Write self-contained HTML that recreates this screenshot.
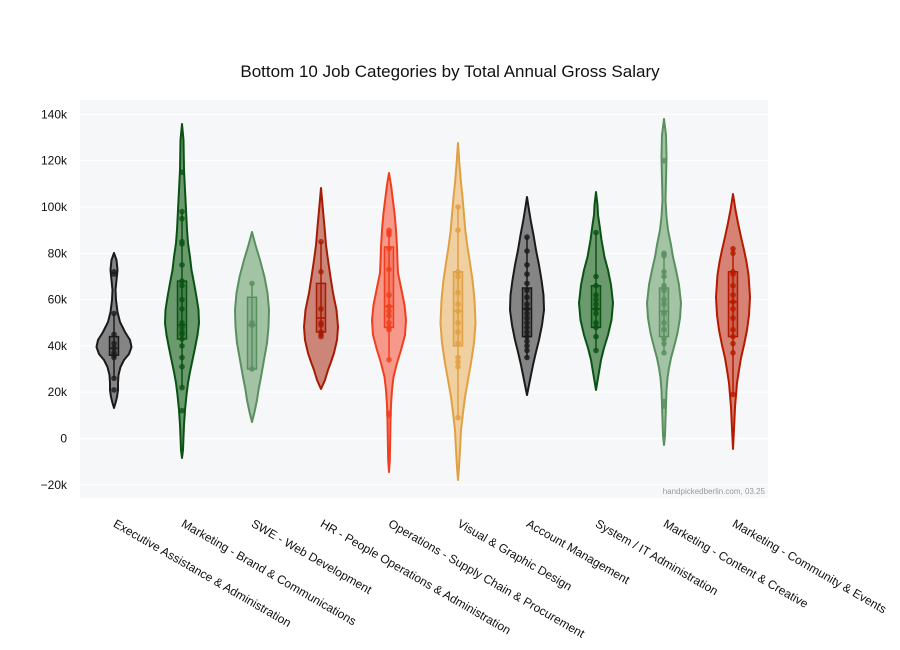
<!DOCTYPE html>
<html>
<head>
<meta charset="utf-8">
<style>
html,body{margin:0;padding:0;background:#fff;}
svg{display:block;}
text{font-family:"Liberation Sans",Arial,sans-serif;}
</style>
</head>
<body>
<svg width="900" height="650" viewBox="0 0 900 650" xmlns="http://www.w3.org/2000/svg">
<rect x="0" y="0" width="900" height="650" fill="#ffffff"/>
<!-- plot background -->
<rect x="80" y="100" width="688" height="398" fill="#f5f7f9"/>
<!-- gridlines -->
<g stroke="#ffffff" stroke-width="1.2">
<line x1="80" x2="768" y1="114.4" y2="114.4"/>
<line x1="80" x2="768" y1="160.7" y2="160.7"/>
<line x1="80" x2="768" y1="207.0" y2="207.0"/>
<line x1="80" x2="768" y1="253.3" y2="253.3"/>
<line x1="80" x2="768" y1="299.6" y2="299.6"/>
<line x1="80" x2="768" y1="345.9" y2="345.9"/>
<line x1="80" x2="768" y1="392.2" y2="392.2"/>
<line x1="80" x2="768" y1="438.5" y2="438.5" stroke-width="1.8"/>
<line x1="80" x2="768" y1="484.8" y2="484.8"/>
</g>
<!-- y tick labels -->
<g font-size="12" fill="#111" text-anchor="end">
<text x="67" y="118.4">140k</text>
<text x="67" y="164.7">120k</text>
<text x="67" y="211.0">100k</text>
<text x="67" y="257.3">80k</text>
<text x="67" y="303.6">60k</text>
<text x="67" y="349.9">40k</text>
<text x="67" y="396.2">20k</text>
<text x="67" y="442.5">0</text>
<text x="67" y="488.8">−20k</text>
</g>
<!-- title -->
<text x="450" y="77" font-size="17" fill="#111" text-anchor="middle">Bottom 10 Job Categories by Total Annual Gross Salary</text>

<g stroke-width="2" stroke-linejoin="round">
<!-- V1 -->
<path d="M114,253 L116.5,260 L117.5,270 L116.5,280 L115.5,290 L116,300 L117.5,312 L120,322 L125,332 L130,340 L131.5,347 L129,354 L124,360 L120.5,367 L118.5,375 L118,383 L118,390 L117,397 L115.5,403 L114,408 L112.5,403 L111,397 L110,390 L110,383 L109.5,375 L107.5,367 L104,360 L99,354 L96.5,347 L98,340 L103,332 L108,322 L110.5,312 L112,300 L112.5,290 L111.5,280 L110.5,270 L111.5,260 Z" fill="#858585" stroke="#1a1a1a"/>
<!-- V2 -->
<path d="M182,124 L183.5,140 L184,170 L185,190 L186,210 L187,230 L188,243 L190,257 L191.5,270 L194,283 L196.5,297 L198.5,310 L199,323 L197.5,335 L195,348 L192.5,360 L190,372 L188,383 L186.5,395 L185,410 L184,425 L183.5,437 L183,450 L182,458 L181,450 L180.5,437 L180,425 L179,410 L177.5,395 L176,383 L174,372 L171.5,360 L169,348 L166.5,335 L165,323 L165.5,310 L167.5,297 L170,283 L172.5,270 L174,257 L176,243 L177,230 L178,210 L179,190 L180,170 L180.5,140 Z" fill="#6b9a6e" stroke="#0a5213"/>
<!-- V3 -->
<path d="M252,232 L255.5,245 L260,260 L264.5,277 L267.5,293 L269,310 L268.5,327 L267,343 L264,360 L261,377 L258.5,390 L257,400 L254.5,412 L252,422 L249.5,412 L247,400 L245.5,390 L243,377 L240,360 L237,343 L235.5,327 L235,310 L236.5,293 L239.5,277 L244,260 L248.5,245 Z" fill="#a3c3a5" stroke="#5a8f60"/>
<!-- V4 -->
<path d="M321,188 L322.5,205 L324.5,227 L326,245 L328,260 L330.5,277 L333,293 L336.5,310 L338,327 L337,340 L334,353 L331,362 L328,370 L325,380 L321,389 L317,380 L314,370 L311,362 L308,353 L305,340 L304,327 L305.5,310 L309,293 L311.5,277 L314,260 L316,245 L317.5,227 L319.5,205 Z" fill="#cc8579" stroke="#a51c05"/>
<!-- V5 -->
<path d="M389,173 L391,185 L392.5,197 L394.5,213 L396,230 L397,247 L397.5,262 L398,273 L401.5,290 L404.5,305 L406,320 L405,335 L401,350 L397,363 L393.5,377 L392,390 L391,405 L390.5,420 L390.2,440 L389.8,460 L389,472 L388.2,460 L387.8,440 L387.5,420 L387,405 L386,390 L384.5,377 L381,363 L377,350 L373,335 L372,320 L373.5,305 L376.5,290 L380,273 L380.5,262 L381,247 L382,230 L383.5,213 L385.5,197 L387,185 Z" fill="#f7998a" stroke="#f03f1f"/>
<!-- V6 -->
<path d="M458,143 L459.5,165 L461,183 L462.5,197 L464,215 L465.5,232 L467.5,247 L470,263 L472.5,280 L474.5,300 L475.5,323 L474,343 L471,363 L468,380 L465,397 L463,413 L461,430 L460,450 L459,467 L458,480 L457,467 L456,450 L455,430 L453,413 L451,397 L448,380 L445,363 L442,343 L440.5,323 L441.5,300 L443.5,280 L446,263 L448.5,247 L450.5,232 L452,215 L453.5,197 L455,183 L456.5,165 Z" fill="#f0d0a0" stroke="#e0a043"/>
<!-- V7 -->
<path d="M527,197 L529,210 L531,222 L533.5,235 L536,250 L539,265 L541.5,280 L543.5,295 L544,310 L542,325 L539,340 L536,352 L533,365 L530,380 L527,395 L524,380 L521,365 L518,352 L515,340 L512,325 L510,310 L510.5,295 L512.5,280 L515,265 L518,250 L520.5,235 L523,222 L525,210 Z" fill="#858585" stroke="#1a1a1a"/>
<!-- V8 -->
<path d="M596,192 L597.5,205 L598,215 L599.5,225 L601.5,240 L604.5,257 L608,270 L611,285 L613,303 L611.5,320 L608,335 L604,348 L601,360 L598.5,375 L596,390 L593.5,375 L591,360 L588,348 L584,335 L580.5,320 L579,303 L581,285 L584,270 L587.5,257 L590.5,240 L592.5,225 L594,215 L594.5,205 Z" fill="#6b9a6e" stroke="#0a5213"/>
<!-- V9 -->
<path d="M664,119 L666,135 L666.5,157 L666,180 L665.5,200 L666.5,217 L668,230 L671,245 L673,257 L676,270 L679,285 L681,303 L680,318 L677.5,333 L674,347 L671,358 L669,368 L667.5,378 L666.5,390 L666,405 L665.5,420 L665,435 L664,445 L663,435 L662.5,420 L662,405 L661.5,390 L660.5,378 L659,368 L657,358 L654,347 L650.5,333 L648,318 L647,303 L649,285 L652,270 L655,257 L657,245 L660,230 L661.5,217 L662.5,200 L662,180 L661.5,157 L662,135 Z" fill="#a3c3a5" stroke="#5a8f60"/>
<!-- V10 -->
<path d="M733,194 L735.5,210 L738,223 L741,237 L744,250 L746.5,262 L748.5,275 L750,297 L749,315 L747,330 L744,345 L741,358 L739,370 L737,383 L736,395 L735,407 L734.2,425 L733,449 L731.8,425 L731,407 L730,395 L729,383 L727,370 L725,358 L722,345 L719,330 L717,315 L716,297 L717.5,275 L719.5,262 L722,250 L725,237 L728,223 L730.5,210 Z" fill="#d68375" stroke="#b51a00"/>
</g>

<!-- Boxes, whiskers, medians -->
<g stroke-width="1.5">
<g stroke="#1a1a1a" fill="rgba(26,26,26,0.35)">
<line x1="114" x2="114" y1="313.5" y2="378.3"/>
<rect x="109.5" y="336.6" width="9" height="18.6"/>
<line x1="109.5" x2="118.5" y1="348.2" y2="348.2" stroke-dasharray="2,1"/>
</g>
<g stroke="#0a5213" fill="rgba(10,82,19,0.35)">
<line x1="182" x2="182" y1="211.6" y2="387.6"/>
<rect x="177.5" y="281.1" width="9" height="57.9"/>
<line x1="177.5" x2="186.5" y1="325.1" y2="325.1"/>
</g>
<g stroke="#5a8f60" fill="rgba(90,143,96,0.35)">
<line x1="252" x2="252" y1="283.4" y2="369"/>
<rect x="247.5" y="297.3" width="9" height="71.7"/>
<line x1="247.5" x2="256.5" y1="325.1" y2="325.1"/>
</g>
<g stroke="#a51c05" fill="rgba(165,28,5,0.3)">
<line x1="321" x2="321" y1="241.7" y2="336.6"/>
<rect x="316.5" y="283.4" width="9" height="48.6"/>
<line x1="316.5" x2="325.5" y1="318.1" y2="318.1"/>
</g>
<g stroke="#f03f1f" fill="rgba(240,63,31,0.3)">
<line x1="389" x2="389" y1="230.2" y2="359.8"/>
<rect x="384.5" y="247" width="9" height="80.4"/>
<line x1="384.5" x2="393.5" y1="306.5" y2="306.5"/>
</g>
<g stroke="#e0a043" fill="rgba(224,160,67,0.35)">
<line x1="458" x2="458" y1="207" y2="417.7"/>
<rect x="453.5" y="271.8" width="9" height="74.1"/>
<line x1="453.5" x2="462.5" y1="311.2" y2="311.2"/>
</g>
<g stroke="#1a1a1a" fill="rgba(26,26,26,0.35)">
<line x1="527" x2="527" y1="237.1" y2="357.5"/>
<rect x="522.5" y="288" width="9" height="48.6"/>
<line x1="522.5" x2="531.5" y1="308.9" y2="308.9"/>
</g>
<g stroke="#0a5213" fill="rgba(10,82,19,0.35)">
<line x1="596" x2="596" y1="232.5" y2="350.5"/>
<rect x="591.5" y="285.7" width="9" height="41.7"/>
<line x1="591.5" x2="600.5" y1="308.9" y2="308.9"/>
</g>
<g stroke="#5a8f60" fill="rgba(90,143,96,0.35)">
<line x1="664" x2="664" y1="253.3" y2="352.8"/>
<rect x="659.5" y="288" width="9" height="48.6"/>
<line x1="659.5" x2="668.5" y1="311.2" y2="311.2"/>
</g>
<g stroke="#b51a00" fill="rgba(181,26,0,0.3)">
<line x1="733" x2="733" y1="248.7" y2="394.5"/>
<rect x="728.5" y="271.8" width="9" height="64.8"/>
<line x1="728.5" x2="737.5" y1="301.9" y2="301.9"/>
</g>
</g>

<!-- Points -->
<g fill="#1a1a1a" fill-opacity="0.8">
<circle cx="114" cy="271.8" r="2.8"/><circle cx="114" cy="274.1" r="2.8"/><circle cx="114" cy="313.5" r="2.8"/><circle cx="114" cy="334.3" r="2.8"/><circle cx="114" cy="343.6" r="2.8"/><circle cx="114" cy="348.2" r="2.8"/><circle cx="114" cy="352.8" r="2.8"/><circle cx="114" cy="355.2" r="2.8"/><circle cx="114" cy="357.5" r="2.8"/><circle cx="114" cy="378.3" r="2.8"/><circle cx="114" cy="389.9" r="2.8"/>
</g>
<g fill="#0a5213" fill-opacity="0.8">
<circle cx="182" cy="172.3" r="2.8"/><circle cx="182" cy="211.6" r="2.8"/><circle cx="182" cy="218.6" r="2.8"/><circle cx="182" cy="241.7" r="2.8"/><circle cx="182" cy="244" r="2.8"/><circle cx="182" cy="264.9" r="2.8"/><circle cx="182" cy="281.1" r="2.8"/><circle cx="182" cy="285.7" r="2.8"/><circle cx="182" cy="299.6" r="2.8"/><circle cx="182" cy="308.9" r="2.8"/><circle cx="182" cy="322.8" r="2.8"/><circle cx="182" cy="327.4" r="2.8"/><circle cx="182" cy="332" r="2.8"/><circle cx="182" cy="334.3" r="2.8"/><circle cx="182" cy="339" r="2.8"/><circle cx="182" cy="345.9" r="2.8"/><circle cx="182" cy="357.5" r="2.8"/><circle cx="182" cy="366.7" r="2.8"/><circle cx="182" cy="387.6" r="2.8"/><circle cx="182" cy="410.7" r="2.8"/>
</g>
<g fill="#5a8f60" fill-opacity="0.85">
<circle cx="252" cy="283.4" r="2.8"/><circle cx="252" cy="322.8" r="2.8"/><circle cx="252" cy="325.1" r="2.8"/><circle cx="252" cy="369" r="2.8"/>
</g>
<g fill="#a51c05" fill-opacity="0.8">
<circle cx="321" cy="241.7" r="2.8"/><circle cx="321" cy="271.8" r="2.8"/><circle cx="321" cy="308.9" r="2.8"/><circle cx="321" cy="322.8" r="2.8"/><circle cx="321" cy="325.1" r="2.8"/><circle cx="321" cy="332" r="2.8"/><circle cx="321" cy="334.3" r="2.8"/><circle cx="321" cy="336.6" r="2.8"/>
</g>
<g fill="#f03f1f" fill-opacity="0.8">
<circle cx="389" cy="230.2" r="2.8"/><circle cx="389" cy="232.5" r="2.8"/><circle cx="389" cy="234.8" r="2.8"/><circle cx="389" cy="248.7" r="2.8"/><circle cx="389" cy="269.5" r="2.8"/><circle cx="389" cy="295" r="2.8"/><circle cx="389" cy="306.5" r="2.8"/><circle cx="389" cy="311.2" r="2.8"/><circle cx="389" cy="315.8" r="2.8"/><circle cx="389" cy="322.8" r="2.8"/><circle cx="389" cy="327.4" r="2.8"/><circle cx="389" cy="329.7" r="2.8"/><circle cx="389" cy="359.8" r="2.8"/><circle cx="389" cy="413" r="2.8"/><circle cx="389" cy="415.4" r="2.8"/>
</g>
<g fill="#e0a043" fill-opacity="0.85">
<circle cx="458" cy="207" r="2.8"/><circle cx="458" cy="230.2" r="2.8"/><circle cx="458" cy="271.8" r="2.8"/><circle cx="458" cy="276.5" r="2.8"/><circle cx="458" cy="292.7" r="2.8"/><circle cx="458" cy="304.2" r="2.8"/><circle cx="458" cy="311.2" r="2.8"/><circle cx="458" cy="322.8" r="2.8"/><circle cx="458" cy="332" r="2.8"/><circle cx="458" cy="343.6" r="2.8"/><circle cx="458" cy="357.5" r="2.8"/><circle cx="458" cy="362.1" r="2.8"/><circle cx="458" cy="366.7" r="2.8"/><circle cx="458" cy="417.7" r="2.8"/>
</g>
<g fill="#1a1a1a" fill-opacity="0.85">
<circle cx="527" cy="237.1" r="2.8"/><circle cx="527" cy="251" r="2.8"/><circle cx="527" cy="264.9" r="2.8"/><circle cx="527" cy="274.1" r="2.8"/><circle cx="527" cy="283.4" r="2.8"/><circle cx="527" cy="290.3" r="2.8"/><circle cx="527" cy="297.3" r="2.8"/><circle cx="527" cy="304.2" r="2.8"/><circle cx="527" cy="308.9" r="2.8"/><circle cx="527" cy="313.5" r="2.8"/><circle cx="527" cy="318.1" r="2.8"/><circle cx="527" cy="322.8" r="2.8"/><circle cx="527" cy="327.4" r="2.8"/><circle cx="527" cy="332" r="2.8"/><circle cx="527" cy="336.6" r="2.8"/><circle cx="527" cy="341.3" r="2.8"/><circle cx="527" cy="345.9" r="2.8"/><circle cx="527" cy="350.5" r="2.8"/><circle cx="527" cy="357.5" r="2.8"/>
</g>
<g fill="#0a5213" fill-opacity="0.85">
<circle cx="596" cy="232.5" r="2.8"/><circle cx="596" cy="276.5" r="2.8"/><circle cx="596" cy="285.7" r="2.8"/><circle cx="596" cy="295" r="2.8"/><circle cx="596" cy="299.6" r="2.8"/><circle cx="596" cy="304.2" r="2.8"/><circle cx="596" cy="308.9" r="2.8"/><circle cx="596" cy="313.5" r="2.8"/><circle cx="596" cy="322.8" r="2.8"/><circle cx="596" cy="327.4" r="2.8"/><circle cx="596" cy="336.6" r="2.8"/><circle cx="596" cy="350.5" r="2.8"/>
</g>
<g fill="#5a8f60" fill-opacity="0.85">
<circle cx="664" cy="160.7" r="2.8"/><circle cx="664" cy="253.3" r="2.8"/><circle cx="664" cy="255.6" r="2.8"/><circle cx="664" cy="271.8" r="2.8"/><circle cx="664" cy="276.5" r="2.8"/><circle cx="664" cy="285.7" r="2.8"/><circle cx="664" cy="290.3" r="2.8"/><circle cx="664" cy="299.6" r="2.8"/><circle cx="664" cy="304.2" r="2.8"/><circle cx="664" cy="313.5" r="2.8"/><circle cx="664" cy="322.8" r="2.8"/><circle cx="664" cy="329.7" r="2.8"/><circle cx="664" cy="339" r="2.8"/><circle cx="664" cy="343.6" r="2.8"/><circle cx="664" cy="352.8" r="2.8"/><circle cx="664" cy="401.5" r="2.8"/><circle cx="664" cy="406.1" r="2.8"/>
</g>
<g fill="#b51a00" fill-opacity="0.8">
<circle cx="733" cy="248.7" r="2.8"/><circle cx="733" cy="253.3" r="2.8"/><circle cx="733" cy="271.8" r="2.8"/><circle cx="733" cy="274.1" r="2.8"/><circle cx="733" cy="285.7" r="2.8"/><circle cx="733" cy="295" r="2.8"/><circle cx="733" cy="301.9" r="2.8"/><circle cx="733" cy="308.9" r="2.8"/><circle cx="733" cy="318.1" r="2.8"/><circle cx="733" cy="329.7" r="2.8"/><circle cx="733" cy="336.6" r="2.8"/><circle cx="733" cy="343.6" r="2.8"/><circle cx="733" cy="352.8" r="2.8"/><circle cx="733" cy="394.5" r="2.8"/>
</g>

<!-- watermark -->
<text x="765" y="494" font-size="8" fill="#9a9a9a" text-anchor="end">handpickedberlin.com, 03.25</text>

<!-- x tick labels rotated 30deg -->
<g font-size="12" fill="#111">
<text transform="translate(112.5,526) rotate(30)">Executive Assistance &amp; Administration</text>
<text transform="translate(180.5,526) rotate(30)">Marketing - Brand &amp; Communications</text>
<text transform="translate(250.5,526) rotate(30)">SWE - Web Development</text>
<text transform="translate(319.5,526) rotate(30)">HR - People Operations &amp; Administration</text>
<text transform="translate(387.5,526) rotate(30)">Operations - Supply Chain &amp; Procurement</text>
<text transform="translate(456.5,526) rotate(30)">Visual &amp; Graphic Design</text>
<text transform="translate(525.5,526) rotate(30)">Account Management</text>
<text transform="translate(594.5,526) rotate(30)">System / IT Administration</text>
<text transform="translate(662.5,526) rotate(30)">Marketing - Content &amp; Creative</text>
<text transform="translate(731.5,526) rotate(30)">Marketing - Community &amp; Events</text>
</g>
</svg>
</body>
</html>
